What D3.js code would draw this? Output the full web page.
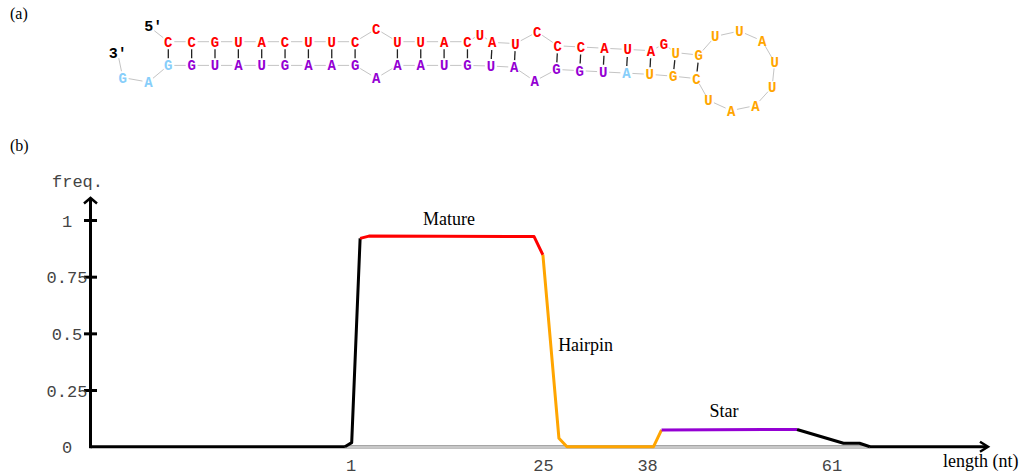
<!DOCTYPE html>
<html>
<head>
<meta charset="utf-8">
<script src="https://cdn.jsdelivr.net/npm/d3@7"></script>
<style>
  html, body { margin: 0; padding: 0; background: #fff; }
  svg { display: block; }
</style>
</head>
<body>
<svg id="fig" width="1026" height="475"></svg>
<script>
// ---- precursor hairpin: sequence, dot-bracket structure and regions ----
const sequence = "CCGUACUUCCUUACUAUCCCAUAGUGUUAUUAAUCGUAUGGAAUGUAAAGAAGUAUGGAG";
const structure = ["(((((((((", ".", "((((", ".", "((", ".", "(((((", ".", "((",
                   "........", "))", ")))))", ".", "))))))", ".", ")))))))))", ".."].join("");

const regionNames  = ["Mature", "Hairpin", "Star"];
const regionFirst  = [1, 25, 39];     // first nucleotide of each region (1-based)
const regionLast   = [24, 37, 57];    // last nucleotide of each region
const regionColors = ["#ff0000", "#ffa500", "#9400d3"];
const otherColor   = "#87cefa";

// ---- read frequency along the precursor ----
const covPos    = [0.3, 1.15, 2.2, 3.3, 23.9, 25.0, 27.0, 28.0, 38.8, 39.8, 56.7, 62.5, 64.5, 65.8];
const covFreq   = [0, 0.018, 0.919, 0.929, 0.927, 0.846, 0.037, 0, 0, 0.074, 0.076, 0.015, 0.015, 0];
const covRegion = [-1, -1, 0, 0, 0, 1, 1, 1, 1, 2, -1, -1, -1];   // region of each interval, -1 = none

const xTickValues = [1, 25, 38, 61];
const yTickValues = [0, 0.25, 0.5, 0.75, 1];
const yTickLabels = ["0", "0.25", "0.5", "0.75", "1"];

const svg = d3.select("#fig");
const MONO = "'Liberation Mono', 'Courier New', monospace";
const SERIF = "'Liberation Serif', 'Times New Roman', serif";

// panel letters
svg.append("text").attr("x", 10).attr("y", 19).text("(a)")
  .attr("font-family", SERIF).attr("font-size", 16);
svg.append("text").attr("x", 10).attr("y", 151).text("(b)")
  .attr("font-family", SERIF).attr("font-size", 16);

// =================== (a) secondary structure ===================
function pairTable(db) {
  const stack = [], pt = new Array(db.length).fill(-1);
  for (let i = 0; i < db.length; i++) {
    if (db[i] === "(") stack.push(i);
    else if (db[i] === ")") { const j = stack.pop(); pt[i] = j; pt[j] = i; }
  }
  return pt;
}

// Lays out a single-stem hairpin: stacked pairs, symmetric interior loops,
// single-sided bulges (which bend the helix) and a circular terminal loop.
function layoutHairpin(pt, g) {
  const n = pt.length, pos = new Array(n);
  let a = g.angle, O = [g.x0, g.y0];
  const at = (u, v) => [O[0] + u * Math.cos(a) - v * Math.sin(a),
                        O[1] + u * Math.sin(a) + v * Math.cos(a)];
  let i = 0;
  while (pt[i] < 0) i++;
  let j = pt[i];
  const tailStart = j + 1;
  while (true) {
    pos[i] = at(0, 0);
    pos[j] = at(0, g.width);
    let i2 = i + 1;
    while (i2 < j && pt[i2] < 0) i2++;
    if (i2 >= j) {
      // terminal loop on a circle through the closing pair
      const T = pos[i], B = pos[j];
      const M = [(T[0] + B[0]) / 2, (T[1] + B[1]) / 2];
      const off = Math.sqrt(g.loopRadius * g.loopRadius - g.width * g.width / 4);
      const C = [M[0] + off * Math.cos(a), M[1] + off * Math.sin(a)];
      const tT = Math.atan2(T[1] - C[1], T[0] - C[0]);
      let tB = Math.atan2(B[1] - C[1], B[0] - C[0]);
      if (tB < tT) tB += 2 * Math.PI;
      const m = j - i - 1;
      for (let k = 1; k <= m; k++) {
        const t = tT + (tB - tT) * k / (m + 1);
        pos[i + k] = [C[0] + g.loopRadius * Math.cos(t), C[1] + g.loopRadius * Math.sin(t)];
      }
      break;
    }
    const j2 = pt[i2];
    const n5 = i2 - i - 1, n3 = j - j2 - 1;
    if (n5 === 0 && n3 === 0) {
      O = at(g.step, 0);
    } else if (n5 === n3) {
      for (let k = 1; k <= n5; k++) {
        pos[i + k] = at(g.loopStep * k / (n5 + 1), -g.loopBulge);
        pos[j - k] = at(g.loopStep * k / (n5 + 1), g.width + g.loopBulge);
      }
      O = at(g.loopStep, 0);
    } else {
      const top = n3 === 0;
      const cnt = top ? n5 : n3;
      const sgn = top ? 1 : -1;
      a += sgn * g.bulgeBend / 2;
      for (let k = 1; k <= cnt; k++) {
        if (top) pos[i + k] = at(g.bulgeStep * k / (cnt + 1), -g.bulgeRise);
        else pos[j - k] = at(g.bulgeStep * k / (cnt + 1), g.width + g.bulgeRise);
      }
      O = at(g.bulgeStep, 0);
      a += sgn * g.bulgeBend / 2;
    }
    i = i2; j = j2;
  }
  // dangling 3' tail
  for (let k = tailStart, t = 0; k < n; k++, t++) {
    const ang = g.tailAngles[Math.min(t, g.tailAngles.length - 1)] * Math.PI / 180;
    pos[k] = [pos[k - 1][0] + g.tailStep * Math.cos(ang), pos[k - 1][1] + g.tailStep * Math.sin(ang)];
  }
  return pos;
}

const pt = pairTable(structure);
const pos = layoutHairpin(pt, {
  x0: 168.3, y0: 41.7, angle: 0,
  step: 23.35, width: 23.7,
  loopStep: 42.3, loopBulge: 12.8,
  bulgeStep: 24.7, bulgeRise: 7.5, bulgeBend: 3 * Math.PI / 180,
  loopRadius: 40,
  tailStep: 26, tailAngles: [140, 190]
});

const nts = sequence.split("").map((base, k) => {
  const r = regionFirst.findIndex((f, q) => k + 1 >= f && k + 1 <= regionLast[q]);
  return { base, k, x: pos[k][0], y: pos[k][1], color: r >= 0 ? regionColors[r] : otherColor };
});

function trimmed(p, q, s0, s1) {
  const dx = q[0] - p[0], dy = q[1] - p[1], L = Math.hypot(dx, dy);
  return [p[0] + dx * s0 / L, p[1] + dy * s0 / L, q[0] - dx * s1 / L, q[1] - dy * s1 / L];
}

const gStruct = svg.append("g");

// backbone
const backbone = d3.pairs(nts).map(([p, q]) => trimmed([p.x, p.y], [q.x, q.y], 6, 6));
gStruct.selectAll("line.bb").data(backbone).join("line")
  .attr("class", "bb")
  .attr("x1", d => d[0]).attr("y1", d => d[1]).attr("x2", d => d[2]).attr("y2", d => d[3])
  .attr("stroke", "#c4c4c4").attr("stroke-width", 1);

// base pairs
const pairs = nts.filter(d => pt[d.k] > d.k).map(d => [d, nts[pt[d.k]]]);
gStruct.selectAll("line.bp").data(pairs).join("line")
  .attr("class", "bp")
  .attr("x1", d => d[0].x + (d[1].x - d[0].x) * 0.32)
  .attr("y1", d => d[0].y + (d[1].y - d[0].y) * 0.32)
  .attr("x2", d => d[0].x + (d[1].x - d[0].x) * 0.70)
  .attr("y2", d => d[0].y + (d[1].y - d[0].y) * 0.70)
  .attr("stroke", "#222").attr("stroke-width", 1.3);

// end labels
const first = nts[0], last = nts[nts.length - 1];
const ends = [
  { text: "5'", lx: first.x - 15, ly: first.y - 11, nt: first },
  { text: "3'", lx: last.x - 5, ly: last.y - 19.5, nt: last }
];
gStruct.selectAll("line.end").data(ends).join("line")
  .attr("class", "end")
  .each(function (d) {
    const t = trimmed([d.lx + 1, d.ly], [d.nt.x, d.nt.y], 0, 6.5);
    d3.select(this).attr("x1", t[0]).attr("y1", t[1]).attr("x2", t[2]).attr("y2", t[3]);
  })
  .attr("stroke", "#c4c4c4").attr("stroke-width", 1);
gStruct.selectAll("text.end").data(ends).join("text")
  .attr("class", "end")
  .attr("x", d => d.lx).attr("y", d => d.ly)
  .attr("text-anchor", "middle")
  .attr("font-family", MONO).attr("font-weight", "bold").attr("font-size", 15)
  .text(d => d.text);

// nucleotides
gStruct.selectAll("text.nt").data(nts).join("text")
  .attr("class", "nt")
  .attr("x", d => d.x).attr("y", d => d.y).attr("dy", "0.36em")
  .attr("text-anchor", "middle")
  .attr("font-family", MONO).attr("font-weight", "bold").attr("font-size", 14)
  .attr("fill", d => d.color)
  .text(d => d.base);

// =================== (b) frequency along the precursor ===================
const x = d3.scaleLinear().domain([1, 61]).range([350.5, 831.5]);
const y = d3.scaleLinear().domain([0, 1]).range([446.7, 220]);
const originX = 90.5, axisEndX = 988, axisTopY = 198;

const pts = covPos.map((p, k) => ({ pos: p, freq: covFreq[k] }));

// x axis line
svg.append("line")
  .attr("x1", originX).attr("y1", y(0)).attr("x2", axisEndX - 1).attr("y2", y(0))
  .attr("stroke", "#000").attr("stroke-width", 3);
// zero baseline under the profile
svg.append("line")
  .attr("x1", x(covPos[0])).attr("y1", y(0))
  .attr("x2", x(covPos[covPos.length - 1])).attr("y2", y(0))
  .attr("stroke", "#c8c8c8").attr("stroke-width", 3);

// profile, split into coloured runs
const runs = [];
covRegion.forEach((r, k) => {
  if (!runs.length || runs[runs.length - 1].r !== r) runs.push({ r, pts: [pts[k]] });
  runs[runs.length - 1].pts.push(pts[k + 1]);
});
const line = d3.line().x(d => x(d.pos)).y(d => y(d.freq));
svg.append("g").selectAll("path").data(runs).join("path")
  .attr("d", d => line(d.pts))
  .attr("fill", "none")
  .attr("stroke", d => d.r >= 0 ? regionColors[d.r] : "#000")
  .attr("stroke-width", 3)
  .attr("stroke-linejoin", "round");

// y axis
svg.append("line")
  .attr("x1", originX).attr("y1", y(0) + 1.5).attr("x2", originX).attr("y2", axisTopY + 1)
  .attr("stroke", "#000").attr("stroke-width", 3);
svg.append("path")
  .attr("d", `M${originX - 6.5},${axisTopY + 5.5}L${originX},${axisTopY}L${originX + 6.5},${axisTopY + 5.5}`)
  .attr("fill", "none").attr("stroke", "#000").attr("stroke-width", 2.5);
svg.append("path")
  .attr("d", `M${axisEndX - 8},${y(0) - 5}L${axisEndX},${y(0)}L${axisEndX - 8},${y(0) + 5}`)
  .attr("fill", "none").attr("stroke", "#000").attr("stroke-width", 2.5);

const yAxis = svg.append("g")
  .attr("transform", `translate(${originX + 6.5},0)`)
  .call(d3.axisLeft(y).tickValues(yTickValues)
        .tickFormat((d, k) => yTickLabels[k]).tickSize(13));
yAxis.select(".domain").remove();
yAxis.selectAll(".tick line")
  .attr("stroke", "#000").attr("stroke-width", 3)
  .attr("display", d => d > 0 ? null : "none");
yAxis.selectAll(".tick text")
  .attr("x", 67 - (originX + 6.5)).attr("dy", "0.36em")
  .attr("text-anchor", "middle")
  .attr("font-family", MONO).attr("font-size", 17).attr("fill", "#444");

const xAxis = svg.append("g")
  .attr("transform", `translate(0,${y(0)})`)
  .call(d3.axisBottom(x).tickValues(xTickValues).tickFormat(d3.format("d"))
        .tickSize(0).tickPadding(12.3));
xAxis.select(".domain").remove();
xAxis.selectAll(".tick text")
  .attr("font-family", MONO).attr("font-size", 17).attr("fill", "#444");

// axis titles
svg.append("text").attr("x", 77.5).attr("y", 187).attr("text-anchor", "middle")
  .attr("font-family", MONO).attr("font-size", 17).attr("fill", "#444").text("freq.");
svg.append("text").attr("x", 943).attr("y", 467)
  .attr("font-family", SERIF).attr("font-size", 18).text("length (nt)");

// region names beside the profile
const regionLabelAt = [
  { pos: 13.3, freq: 0.928, dy: -11, anchor: "middle" },
  { pos: 26.9, freq: 0.42, dy: 0, anchor: "start" },
  { pos: 47.6, freq: 0.076, dy: -12.5, anchor: "middle" }
];
svg.append("g").selectAll("text").data(regionNames).join("text")
  .attr("x", (d, k) => x(regionLabelAt[k].pos))
  .attr("y", (d, k) => y(regionLabelAt[k].freq) + regionLabelAt[k].dy)
  .attr("text-anchor", (d, k) => regionLabelAt[k].anchor)
  .attr("font-family", SERIF).attr("font-size", 18)
  .text(d => d);
</script>
</body>
</html>
